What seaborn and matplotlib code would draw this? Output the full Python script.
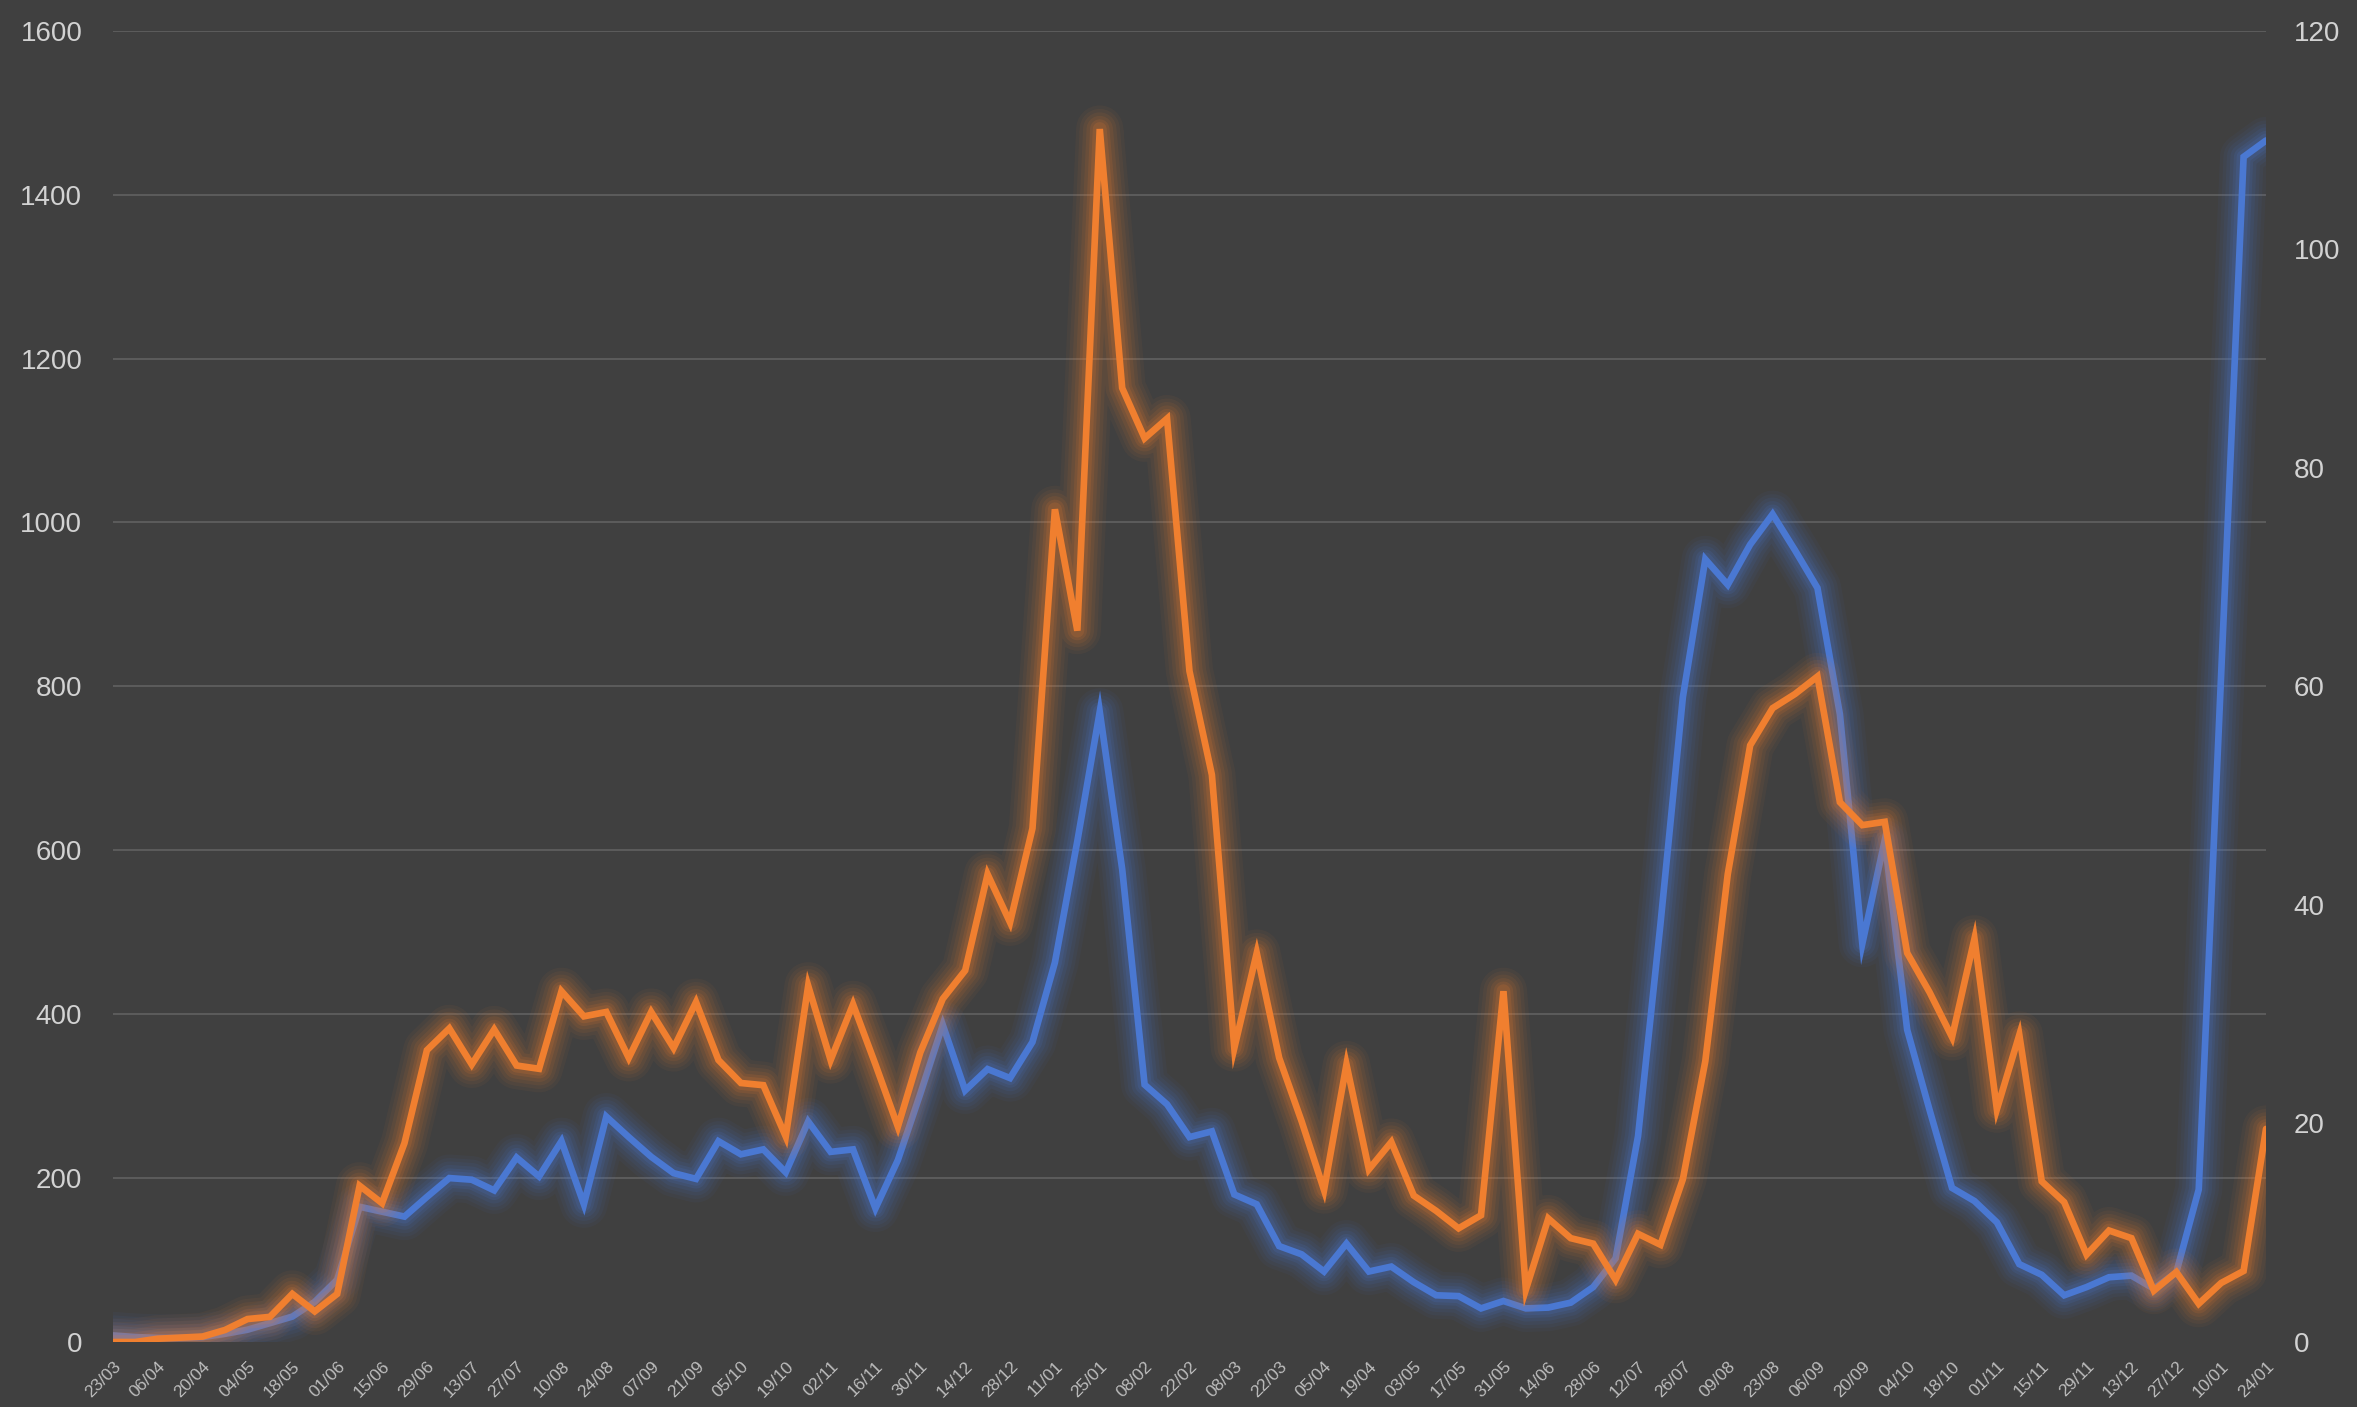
import matplotlib
matplotlib.use("Agg")
import matplotlib.pyplot as plt
import matplotlib.patheffects as pe
import pandas as pd
import seaborn as sns

# ---- data -------------------------------------------------------------
tick_labels = ["23/03", "06/04", "20/04", "04/05", "18/05", "01/06", "15/06", "29/06",
               "13/07", "27/07", "10/08", "24/08", "07/09", "21/09", "05/10", "19/10",
               "02/11", "16/11", "30/11", "14/12", "28/12", "11/01", "25/01", "08/02",
               "22/02", "08/03", "22/03", "05/04", "19/04", "03/05", "17/05", "31/05",
               "14/06", "28/06", "12/07", "26/07", "09/08", "23/08", "06/09", "20/09",
               "04/10", "18/10", "01/11", "15/11", "29/11", "13/12", "27/12", "10/01",
               "24/01"]

# weekly series, left axis (0-1600)
blue_values = [8, 6, 5, 5, 6, 10, 15, 23, 31, 49, 76, 165, 159, 153, 177, 200, 198, 185,
               225, 202, 245, 168, 275, 250, 226, 206, 199, 245, 229, 235, 207, 269, 232,
               235, 163, 222, 303, 387, 307, 333, 322, 366, 463, 611, 769, 577, 314, 290,
               250, 257, 180, 168, 117, 107, 86, 120, 86, 92, 73, 57, 56, 41, 50, 41, 42,
               48, 67, 102, 251, 510, 787, 955, 924, 973, 1010, 966, 920, 766, 486, 612,
               381, 283, 188, 172, 146, 95, 82, 57, 67, 79, 81, 65, 85, 186, 815, 1446,
               1466]

# weekly series, right axis (0-120)
orange_values = [0.0, 0.0, 0.3, 0.4, 0.5, 1.1, 2.1, 2.3, 4.4, 2.8, 4.4, 14.3, 12.7, 18.2,
                 26.7, 28.7, 25.4, 28.6, 25.3, 25.0, 32.1, 29.8, 30.2, 26.0, 30.2, 26.9,
                 31.1, 25.8, 23.7, 23.5, 18.8, 32.6, 25.8, 30.9, 25.4, 19.7, 26.5, 31.4,
                 34.0, 42.8, 38.4, 47.0, 76.2, 65.1, 111.0, 87.3, 82.7, 84.5, 61.4, 51.9,
                 26.9, 35.6, 26.0, 20.2, 13.9, 25.4, 15.8, 18.3, 13.4, 12.0, 10.4, 11.6,
                 32.1, 4.8, 11.3, 9.5, 9.0, 5.7, 9.9, 8.9, 14.9, 25.7, 42.8, 54.6, 58.0,
                 59.3, 60.9, 49.4, 47.3, 47.6, 35.6, 32.0, 27.9, 36.9, 21.3, 28.1, 14.7,
                 12.8, 8.0, 10.2, 9.5, 4.7, 6.4, 3.5, 5.4, 6.5, 19.5]

left_ticks = [0, 200, 400, 600, 800, 1000, 1200, 1400, 1600]
right_ticks = [0, 20, 40, 60, 80, 100, 120]

# ---- style ------------------------------------------------------------
BG = "#404040"
GRID = "#5c5c5c"
TEXT = "#d2d2d2"
BLUE = "#4a78d2"
ORANGE = "#f07f2f"

sns.set_theme(style="dark", rc={"axes.facecolor": BG, "figure.facecolor": BG})
plt.rcParams["font.family"] = ["Liberation Sans", "DejaVu Sans"]

week = list(range(len(blue_values)))
df = pd.DataFrame({"week": week, "blue": blue_values, "orange": orange_values})

fig = plt.figure(figsize=(23.57, 14.07), dpi=100)
fig.patch.set_facecolor(BG)
ax = fig.add_axes([0.0479, 0.0462, 0.9135, 0.9320])
ax.set_facecolor(BG)
ax2 = ax.twinx()


def glow(color):
    layers = [(34, 0.05), (29, 0.06), (24, 0.075), (19, 0.09), (14, 0.12), (10, 0.15)]
    effects = [pe.Stroke(linewidth=w, foreground=color, alpha=a,
                         joinstyle="round", capstyle="round") for w, a in layers]
    return effects + [pe.Normal()]


sns.lineplot(data=df, x="week", y="blue", ax=ax, color=BLUE, linewidth=4.8)
ax.lines[-1].set_path_effects(glow(BLUE))
ax.lines[-1].set_solid_joinstyle("miter")

sns.lineplot(data=df, x="week", y="orange", ax=ax2, color=ORANGE, linewidth=4.8)
ax2.lines[-1].set_path_effects(glow(ORANGE))
ax2.lines[-1].set_solid_joinstyle("miter")

ax.set_xlim(0, len(week) - 1)
ax.set_ylim(0, 1600)
ax2.set_ylim(0, 120)

# grid lines (left scale)
ax.set_axisbelow(True)
ax.grid(False)
for v in left_ticks[1:]:
    ax.axhline(v, color=GRID, linewidth=1.4, zorder=0)
ax2.grid(False)

for a in (ax, ax2):
    for s in a.spines.values():
        s.set_visible(False)
    a.set_xlabel("")
    a.set_ylabel("")

ax.set_yticks(left_ticks)
ax.set_yticklabels([str(t) for t in left_ticks])
ax.tick_params(axis="y", length=0, pad=22, labelsize=20, labelcolor=TEXT)
ax2.set_yticks(right_ticks)
ax2.set_yticklabels([str(t) for t in right_ticks])
ax2.tick_params(axis="y", length=0, pad=20, labelsize=20, labelcolor=TEXT)

ax.set_xticks(week[::2])
ax.set_xticklabels(tick_labels, rotation=45, ha="right", rotation_mode="anchor")
ax.tick_params(axis="x", length=0, pad=12, labelsize=12.5, labelcolor="#bdbdbd")

fig.savefig("out.png", dpi=100, facecolor=BG)
